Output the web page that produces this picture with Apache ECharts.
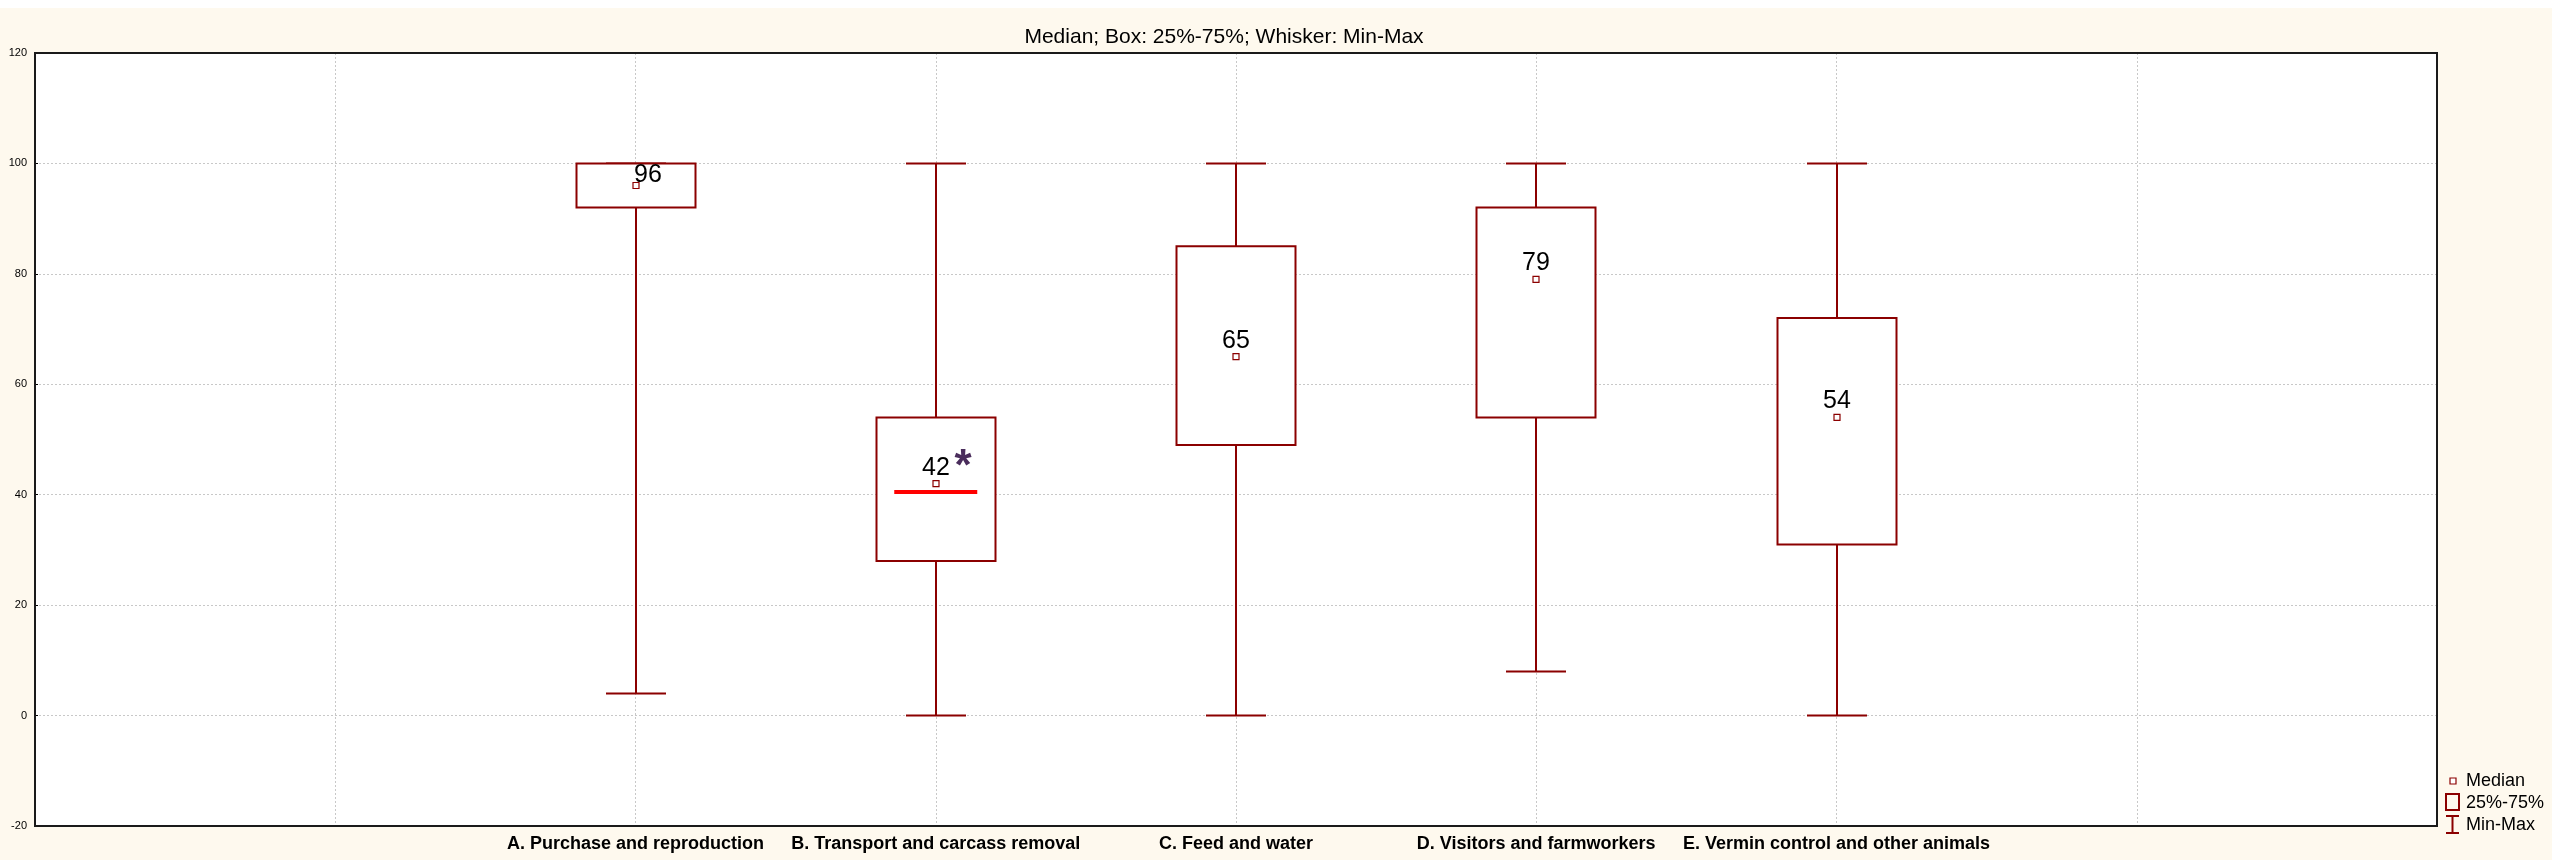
<!DOCTYPE html>
<html>
<head>
<meta charset="utf-8">
<title>Median; Box: 25%-75%; Whisker: Min-Max</title>
<script src="https://cdn.jsdelivr.net/npm/echarts@6/dist/echarts.min.js"></script>
<style>
  html, body { margin: 0; padding: 0; background: #ffffff; }
  #chart { width: 2552px; height: 860px; }
</style>
</head>
<body>
<div id="chart"></div>
<script>
// Groups of biosecurity measures
const categories = [
  'A. Purchase and reproduction',
  'B. Transport and carcass removal',
  'C. Feed and water',
  'D. Visitors and farmworkers',
  'E. Vermin control and other animals'
];
// Five-number summaries per group
const minValues    = [4, 0, 0, 8, 0];
const q1Values     = [92, 28, 49, 54, 31];
const medianValues = [96, 42, 65, 79, 54];
const q3Values     = [100, 54, 85, 92, 72];
const maxValues    = [100, 100, 100, 100, 100];
// Extra reference line drawn inside group B and its significance flag
const refLineValues = [null, 40.5, null, null, null];
const flags = ['', '*', '', '', ''];
// Axis ticks
const yTicks = [-20, 0, 20, 40, 60, 80, 100, 120];

// Two empty slots on each side of the groups
const PAD = 2;
const slots = ['', ''].concat(categories, ['', '']);

const DARK_RED = '#8b0000';
const BOX_W = 119;
const CAP_W = 60;

const boxData = categories.map((c, i) => [
  i + PAD, minValues[i], q1Values[i], medianValues[i], q3Values[i], maxValues[i], flags[i]
]);
const refLineData = refLineValues
  .map((v, i) => (v == null ? null : [i + PAD, v]))
  .filter(d => d);

// Shift of the median label for the first box, where the label sits on the box edge
const labelShift = { 2: [12, 6] };

function renderBox(params, api) {
  const idx = api.value(0);
  const pMin = api.coord([idx, api.value(1)]);
  const pQ1 = api.coord([idx, api.value(2)]);
  const pMed = api.coord([idx, api.value(3)]);
  const pQ3 = api.coord([idx, api.value(4)]);
  const pMax = api.coord([idx, api.value(5)]);
  const x = Math.round(pMed[0]);
  const lineStyle = { stroke: DARK_RED, lineWidth: 2, fill: null };
  const shift = labelShift[idx] || [0, 0];
  const flag = boxData[params.dataIndex][6];
  const children = [
    { type: 'line', shape: { x1: x, y1: pQ3[1], x2: x, y2: pMax[1] }, style: lineStyle },
    { type: 'line', shape: { x1: x, y1: pQ1[1], x2: x, y2: pMin[1] }, style: lineStyle },
    { type: 'line', shape: { x1: x - CAP_W / 2, y1: pMax[1], x2: x + CAP_W / 2, y2: pMax[1] }, style: lineStyle },
    { type: 'line', shape: { x1: x - CAP_W / 2, y1: pMin[1], x2: x + CAP_W / 2, y2: pMin[1] }, style: lineStyle },
    { type: 'rect', shape: { x: x - BOX_W / 2, y: pQ3[1], width: BOX_W, height: pQ1[1] - pQ3[1] },
      style: { stroke: DARK_RED, lineWidth: 2, fill: '#ffffff' } },
    { type: 'rect', shape: { x: x - 3, y: pMed[1] - 3, width: 6, height: 6 },
      style: { stroke: DARK_RED, lineWidth: 1.2, fill: '#ffffff' } },
    { type: 'text', x: x + shift[0], y: pMed[1] - 16 + shift[1],
      style: { text: String(api.value(3)), fontFamily: 'Liberation Sans, Arial, sans-serif', fontSize: 25,
        fill: '#000000', align: 'center', verticalAlign: 'middle' } }
  ];
  if (flag) {
    children.push({ type: 'text', x: x + 27, y: pMed[1] - 16,
      style: { text: flag, fontFamily: 'Liberation Sans, Arial, sans-serif', fontSize: 44, fontWeight: 'bold',
        fill: '#4a2d5c', align: 'center', verticalAlign: 'middle' } });
  }
  return { type: 'group', children };
}

function renderRefLine(params, api) {
  const p = api.coord([api.value(0), api.value(1)]);
  return { type: 'line', shape: { x1: p[0] - 41.5, y1: p[1], x2: p[0] + 41.5, y2: p[1] },
    style: { stroke: '#ff0000', lineWidth: 4 } };
}

const chart = echarts.init(document.getElementById('chart'), null, { renderer: 'canvas' });
const legendX = 2446;
const GRID = { left: 35, top: 53, width: 2402, height: 773 };
chart.setOption({
  backgroundColor: '#fef9ee',
  animation: false,
  grid: { left: GRID.left, top: GRID.top, width: GRID.width, height: GRID.height, show: true,
    backgroundColor: '#ffffff', borderWidth: 0 },
  xAxis: {
    type: 'category', data: slots, boundaryGap: false,
    axisLine: { show: true, onZero: false, lineStyle: { color: '#000000', width: 2 } },
    axisTick: { show: false },
    axisLabel: { interval: 0, margin: 9, color: '#000000', fontSize: 18, fontWeight: 'bold',
      fontFamily: 'Liberation Sans Narrow, Arial Narrow, Liberation Sans, sans-serif' },
    splitLine: { show: true, interval: 0, lineStyle: { color: '#c8c8c8', width: 1, type: [2, 2] } }
  },
  yAxis: {
    type: 'value', min: yTicks[0], max: yTicks[yTicks.length - 1], interval: 20,
    axisLine: { show: true, lineStyle: { color: '#000000', width: 2 } },
    axisTick: { show: true, length: 3, inside: true, lineStyle: { color: '#000000' } },
    axisLabel: { color: '#000000', fontSize: 11, margin: 8, fontFamily: 'Liberation Sans, Arial, sans-serif' },
    splitLine: { show: true, lineStyle: { color: '#c8c8c8', width: 1, type: [2, 2] } }
  },
  series: [
    { type: 'custom', name: 'Box', renderItem: renderBox, data: boxData,
      encode: { x: 0, y: [1, 2, 3, 4, 5] }, z: 3 },
    { type: 'custom', name: 'Reference', renderItem: renderRefLine, data: refLineData,
      encode: { x: 0, y: 1 }, z: 4 }
  ],
  graphic: [
    { type: 'rect', left: 0, top: 0, shape: { width: 2552, height: 8 }, style: { fill: '#ffffff' }, silent: true },
    // plot frame
    { type: 'rect', z: 50, silent: true,
      shape: { x: GRID.left, y: GRID.top, width: GRID.width, height: GRID.height },
      style: { stroke: '#1a1a1a', lineWidth: 2, fill: null } },
    { type: 'text', x: 1224, y: 37,
      style: { text: 'Median; Box: 25%-75%; Whisker: Min-Max', fill: '#000000', fontSize: 21,
        fontFamily: 'Liberation Sans Narrow, Arial Narrow, Liberation Sans, sans-serif', align: 'center', verticalAlign: 'middle' } },
    // legend
    { type: 'rect', shape: { x: 2450, y: 778, width: 6, height: 6 },
      style: { stroke: DARK_RED, lineWidth: 1.2, fill: '#ffffff' } },
    { type: 'text', x: 2466, y: 781, style: { text: 'Median', fill: '#000000', fontSize: 18,
      fontFamily: 'Liberation Sans, Arial, sans-serif', verticalAlign: 'middle' } },
    { type: 'rect', shape: { x: legendX, y: 794, width: 13, height: 16 },
      style: { stroke: DARK_RED, lineWidth: 2, fill: 'none' } },
    { type: 'text', x: 2466, y: 803, style: { text: '25%-75%', fill: '#000000', fontSize: 18,
      fontFamily: 'Liberation Sans, Arial, sans-serif', verticalAlign: 'middle' } },
    { type: 'polyline', shape: { points: [[legendX, 816], [legendX + 13, 816]] }, style: { stroke: DARK_RED, lineWidth: 2 } },
    { type: 'polyline', shape: { points: [[legendX + 6.5, 816], [legendX + 6.5, 833]] }, style: { stroke: DARK_RED, lineWidth: 2 } },
    { type: 'polyline', shape: { points: [[legendX, 833], [legendX + 13, 833]] }, style: { stroke: DARK_RED, lineWidth: 2 } },
    { type: 'text', x: 2466, y: 825, style: { text: 'Min-Max', fill: '#000000', fontSize: 18,
      fontFamily: 'Liberation Sans, Arial, sans-serif', verticalAlign: 'middle' } }
  ]
});
</script>
</body>
</html>
